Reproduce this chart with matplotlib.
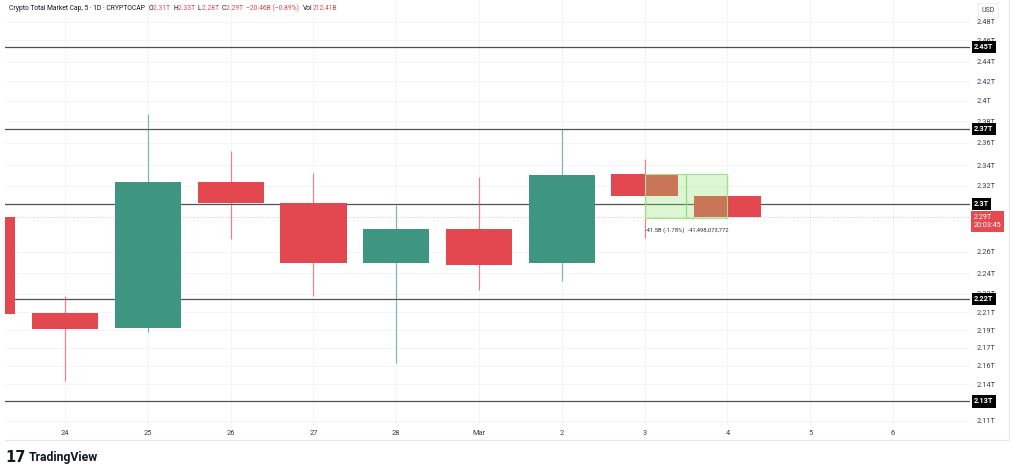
import matplotlib
matplotlib.use('Agg')
import matplotlib.pyplot as plt
from matplotlib.patches import Rectangle
from matplotlib.lines import Line2D
import matplotlib.transforms as mtransforms

plt.rcParams['font.family'] = ['Roboto', 'DejaVu Sans']

# ---------------- data ----------------
day_labels = ['24', '25', '26', '27', '28', 'Mar', '2', '3', '4', '5', '6']
day_pos = list(range(11))

candle_x = [-1, 0, 1, 2, 3, 4, 5, 6, 7, 8]
opens  = [2.299, 2.210, 2.196, 2.332, 2.312, 2.256, 2.288, 2.256, 2.339, 2.319]
highs  = [2.299, 2.226, 2.395, 2.360, 2.340, 2.310, 2.336, 2.381, 2.353, 2.336]
lows   = [2.209, 2.147, 2.192, 2.279, 2.226, 2.164, 2.231, 2.240, 2.280, 2.298]
closes = [2.209, 2.195, 2.332, 2.312, 2.256, 2.288, 2.255, 2.338, 2.319, 2.299]

level_values = [2.457, 2.381, 2.311, 2.223, 2.128]
level_labels = ['2.45T', '2.37T', '2.3T', '2.22T', '2.13T']

tick_values = [2.480, 2.463, 2.443, 2.425, 2.407, 2.388, 2.368, 2.347, 2.328,
               2.267, 2.247, 2.228, 2.211, 2.194, 2.178, 2.161,
               2.144, 2.110]
tick_labels = ['2.48T', '2.46T', '2.44T', '2.42T', '2.4T', '2.38T', '2.36T',
               '2.34T', '2.32T', '2.26T', '2.24T', '2.22T',
               '2.21T', '2.19T', '2.17T', '2.16T', '2.14T', '2.11T']

last_price = 2.299
last_label = '2.29T\n20:03:45'

measure_x = [7, 8]
measure_y = [2.298, 2.339]
measure_text = '-41.5B (-1.78%)  -41,498,073,772'

header_title = 'Crypto Total Market Cap, 5 · 1D · CRYPTOCAP'
header_keys = ['O', 'H', 'L', 'C']
header_vals = ['2.31T', '2.33T', '2.28T', '2.29T']
header_change = '−20.46B (−0.89%)'
header_vol = '212.41B'

# ---------------- style ----------------
GREEN = '#3f9680'
RED = '#e3474f'
DARK = '#131722'
GRID = '#f2f4f8'

W, H = 1024, 472
fig = plt.figure(figsize=(W / 100, H / 100), dpi=100)
fig.patch.set_facecolor('white')

ax_left, ax_right, ax_top, ax_bottom = 5, 970, 0, 425
ax = fig.add_axes([ax_left / W, 1 - ax_bottom / H,
                   (ax_right - ax_left) / W, (ax_bottom - ax_top) / H])
ax.set_xlim(-0.725, 10.93)
ax.set_ylim(2.1062, 2.5004)
for s in ax.spines.values():
    s.set_visible(False)

ax.yaxis.tick_right()
ax.set_yticks(tick_values)
ax.set_yticklabels(tick_labels)
ax.set_xticks(day_pos)
ax.set_xticklabels(day_labels)
ax.tick_params(axis='y', length=0, pad=5, labelsize=5.3, labelcolor='#3b3f4a')
ax.tick_params(axis='x', length=0, pad=3.5, labelsize=5.3, labelcolor='#3b3f4a')
ax.grid(True, color=GRID, lw=0.7, zorder=0)
ax.set_axisbelow(True)

# level lines
for v in level_values:
    ax.axhline(v, color='#505050', lw=0.9, zorder=1)

# last price dotted line
ax.axhline(last_price, color=RED, lw=0.6, ls=(0, (1, 2)), alpha=0.5, zorder=1)

# candles
bw = 0.8
for x, o, h, l, c in zip(candle_x, opens, highs, lows, closes):
    col = GREEN if c >= o else RED
    ax.vlines(x, l, h, color=col, lw=0.9, alpha=0.65, zorder=2)
    ax.add_patch(Rectangle((x - bw / 2, min(o, c)), bw, abs(c - o),
                           facecolor=col, edgecolor='none', zorder=3))

# measure tool box
ax.add_patch(Rectangle((measure_x[0], measure_y[0]), measure_x[1] - measure_x[0],
                       measure_y[1] - measure_y[0], facecolor='#8ee06a', alpha=0.3,
                       edgecolor='none', zorder=4))
ax.add_patch(Rectangle((measure_x[0], measure_y[0]), measure_x[1] - measure_x[0],
                       measure_y[1] - measure_y[0], facecolor='none',
                       edgecolor='#9be58a', lw=0.8, zorder=4))
ax.vlines((measure_x[0] + measure_x[1]) / 2, measure_y[0], measure_y[1],
          color='#8edb7a', lw=0.8, zorder=4)
ax.text(measure_x[0], measure_y[0] - 0.0115, measure_text, fontsize=4.2,
        color='#333333', ha='left', va='center', zorder=5)

# price label boxes on the right axis
trans = mtransforms.offset_copy(ax.get_yaxis_transform(), fig=fig, x=4, y=0, units='dots')
for v, lab in zip(level_values, level_labels):
    ax.text(1.0, v, lab, transform=trans, ha='left', va='center', color='white',
            fontsize=5.3, fontweight='bold', clip_on=False, zorder=10,
            bbox=dict(boxstyle='square,pad=0.3', fc='black', ec='none'))
ax.text(1.0, last_price - 0.004, last_label, transform=trans, ha='left', va='center',
        color='white', fontsize=5.2, linespacing=1.3, clip_on=False, zorder=10,
        bbox=dict(boxstyle='square,pad=0.35', fc='#e44a52', ec='none'))

# USD label
fig.text(988 / W, 1 - 10 / H, 'USD', fontsize=5, color='#3b3f4a', ha='center', va='center',
         bbox=dict(boxstyle='square,pad=0.5', fc='white', ec='#eceef2', lw=0.6))

# separators
fig.add_artist(Line2D([5 / W, 1009 / W], [1 - 440 / H] * 2, color='#e6e8ee', lw=0.8,
                      transform=fig.transFigure))
fig.add_artist(Line2D([1009 / W] * 2, [1 - 440 / H, 1], color='#e6e8ee', lw=0.8,
                      transform=fig.transFigure))

# header (chained pieces)
pieces = [(header_title + '  ', DARK)]
for k, v in zip(header_keys, header_vals):
    pieces.append((k, DARK))
    pieces.append((v + '  ', RED))
pieces.append((header_change + '  ', RED))
pieces.append(('Vol', DARK))
pieces.append((header_vol, RED))

fig.canvas.draw()
renderer = fig.canvas.get_renderer()
xpix = 9
for txt, col in pieces:
    t = fig.text(xpix / W, 1 - 8 / H, txt, fontsize=4.9, color=col, ha='left', va='center')
    bb = t.get_window_extent(renderer=renderer)
    xpix += bb.width

# TradingView logo
fig.text(5 / W, 1 - 458 / H, '17', fontsize=10.5, fontweight='heavy', color='#131722',
         ha='left', va='center', family=['DejaVu Sans'])
fig.text(29 / W, 1 - 458 / H, 'TradingView', fontsize=8.8, fontweight='bold',
         color='#131722', ha='left', va='center')

fig.savefig('out.png', dpi=100, facecolor='white')
